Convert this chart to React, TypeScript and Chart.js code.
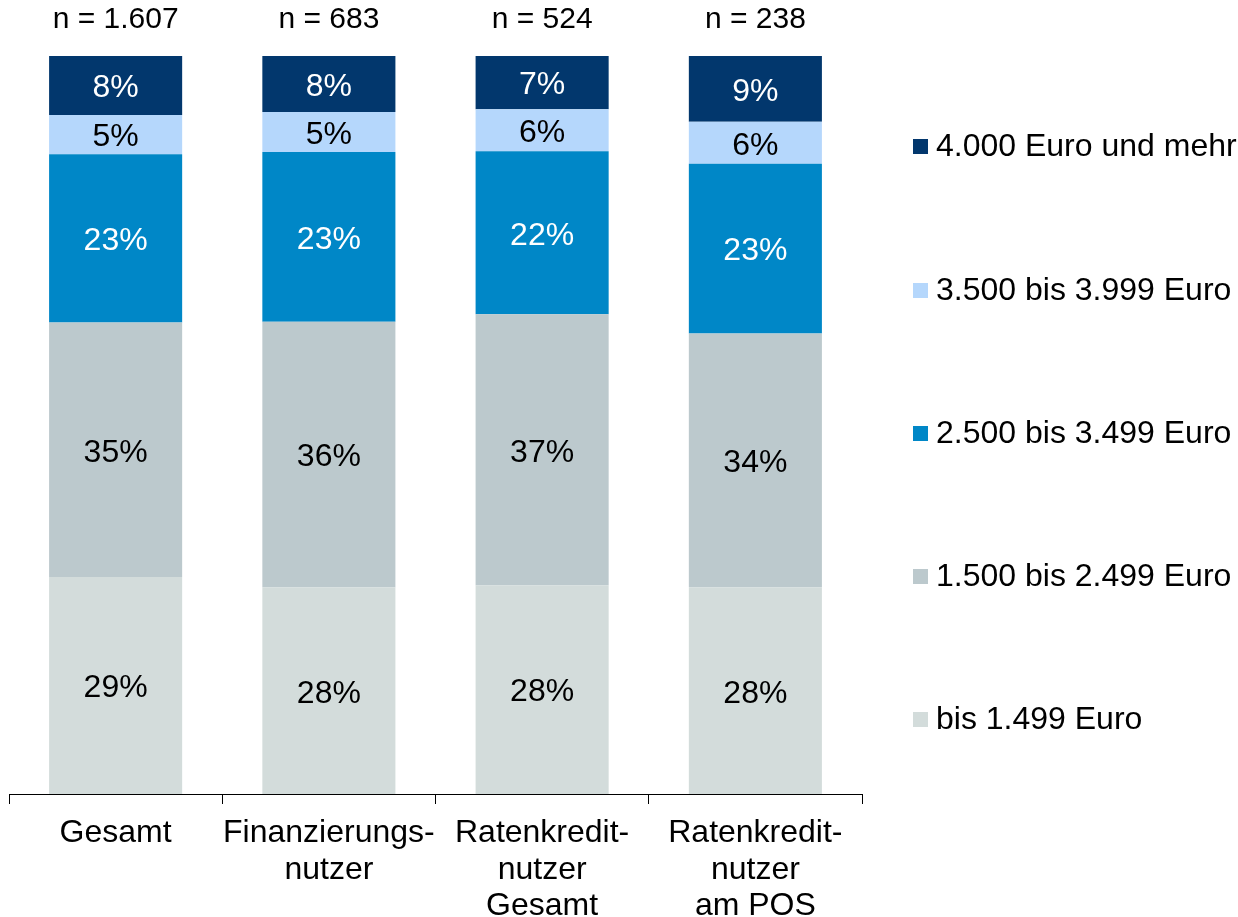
import React, { useEffect, useRef } from "react";
import { Chart, registerables } from "chart.js";

Chart.register(...registerables);

const categories: string[][] = [
  ["Gesamt"],
  ["Finanzierungs-", "nutzer"],
  ["Ratenkredit-", "nutzer", "Gesamt"],
  ["Ratenkredit-", "nutzer", "am POS"],
];
const sampleSizes = ["n = 1.607", "n = 683", "n = 524", "n = 238"];

const seriesNames = [
  "bis 1.499 Euro",
  "1.500 bis 2.499 Euro",
  "2.500 bis 3.499 Euro",
  "3.500 bis 3.999 Euro",
  "4.000 Euro und mehr",
];
const bis1499 = [29.4, 28.0, 28.3, 28.0];
const v1500to2499 = [34.5, 36.0, 36.7, 34.4];
const v2500to3499 = [22.8, 23.0, 22.1, 23.0];
const v3500to3999 = [5.3, 5.4, 5.7, 5.7];
const v4000plus = [8.0, 7.6, 7.2, 8.9];

const seriesValues = [bis1499, v1500to2499, v2500to3499, v3500to3999, v4000plus];
const seriesColors = ["#D3DCDB", "#BCC9CD", "#0087C7", "#B5D7FC", "#02376D"];
const labelColors = ["#000000", "#000000", "#FFFFFF", "#000000", "#FFFFFF"];

const FONT = "'Liberation Sans', Arial, sans-serif";

const overlayPlugin = {
  id: "overlay",
  afterDatasetsDraw(chart: any) {
    const ctx = chart.ctx;
    ctx.save();
    ctx.font = `32px ${FONT}`;
    ctx.textAlign = "center";
    ctx.textBaseline = "middle";
    // data labels
    chart.data.datasets.forEach((ds: any, di: number) => {
      const meta = chart.getDatasetMeta(di);
      meta.data.forEach((bar: any, i: number) => {
        const v = ds.data[i];
        const y = (bar.y + bar.base) / 2;
        ctx.fillStyle = labelColors[di];
        ctx.fillText(Math.round(v) + "%", bar.x, y + 3);
      });
    });
    // sample sizes
    ctx.font = `30px ${FONT}`;
    const meta0 = chart.getDatasetMeta(0);
    ctx.fillStyle = "#000000";
    meta0.data.forEach((bar: any, i: number) => {
      ctx.fillText(sampleSizes[i], bar.x, 20);
    });
    // legend
    ctx.font = `32px ${FONT}`;
    ctx.textAlign = "left";
    const legendYs = [147, 291, 434, 577, 720];
    for (let k = 0; k < seriesNames.length; k++) {
      const si = seriesNames.length - 1 - k;
      const y = legendYs[k];
      ctx.fillStyle = seriesColors[si];
      ctx.fillRect(913, y - 8, 15, 15);
      ctx.fillStyle = "#000000";
      ctx.fillText(seriesNames[si], 936, y);
    }
    ctx.restore();
  },
};

export default function App() {
  const ref = useRef<HTMLCanvasElement>(null);
  useEffect(() => {
    if (!ref.current) return;
    const chart = new Chart(ref.current, {
      type: "bar",
      data: {
        labels: categories as any,
        datasets: seriesValues.map((vals, i) => ({
          label: seriesNames[i],
          data: vals,
          backgroundColor: seriesColors[i],
          borderWidth: 0,
          barPercentage: 0.624,
          categoryPercentage: 1,
        })),
      },
      options: {
        animation: false,
        responsive: false,
        maintainAspectRatio: false,
        layout: { padding: { left: 9, right: 376, top: 56, bottom: 0 } },
        plugins: {
          legend: { display: false },
          tooltip: { enabled: false },
        },
        scales: {
          x: {
            stacked: true,
            offset: true,
            grid: {
              display: true,
              drawOnChartArea: false,
              drawTicks: true,
              tickLength: 10,
              color: "#000000",
              tickColor: "#000000",
              offset: true,
            },
            border: { display: true, color: "#000000", width: 1 },
            ticks: {
              color: "#000000",
              font: { family: FONT, size: 32, lineHeight: 1.14 },
              padding: 11,
              maxRotation: 0,
              autoSkip: false,
            },
            afterFit(scale: any) {
              scale.height = 123;
            },
          },
          y: {
            stacked: true,
            display: false,
            min: 0,
            max: 100,
          },
        },
      },
      plugins: [overlayPlugin],
    });
    return () => chart.destroy();
  }, []);
  return (
    <div style={{ position: "fixed", left: 0, top: 0, width: 1238, height: 917, background: "#fff" }}>
      <canvas ref={ref} width={1238} height={917} style={{ width: 1238, height: 917 }} />
    </div>
  );
}
